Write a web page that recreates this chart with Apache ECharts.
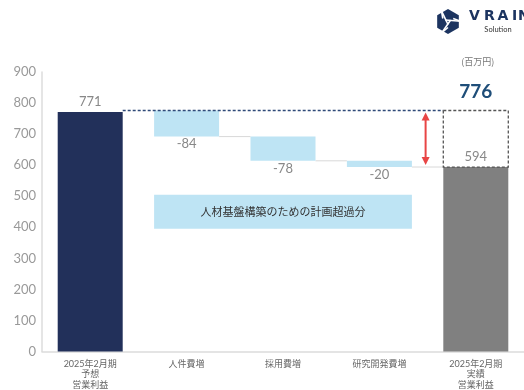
<!DOCTYPE html>
<html><head><meta charset="utf-8">
<script src="https://cdn.jsdelivr.net/npm/echarts@6/dist/echarts.min.js"></script>
<style>html,body{margin:0;padding:0;background:#fff}#c{width:524px;height:390px}</style>
</head><body><div id="c"></div>
<script>
const categories = ['2025年2月期\n予想\n営業利益', '人件費増', '採用費増', '研究開発費増', '2025年2月期\n実績\n営業利益'];
const forecast = 771;
const changes = [-84, -78, -20];
const actual = 594;
const planTotal = 776;
const yTicks = [0, 900, 100];
const noteText = '人材基盤構築のための計画超過分';
const noteRange = [505, 395];
const unitText = '(百万円)';

const FONT = 'Lato, "Noto Sans CJK JP", sans-serif';
const NAVY = '#22305a', LIGHT = '#bee4f4', GRAY = '#808080';

// build waterfall
let running = planTotal;
const base = [0], vis = [forecast], labels = [String(forecast)], colors = [NAVY];
changes.forEach(c => {
  const next = running + c;
  base.push(next); vis.push(-c); labels.push(String(c)); colors.push(LIGHT);
  running = next;
});
base.push(0); vis.push(actual); labels.push(String(actual)); colors.push(GRAY);

const chart = echarts.init(document.getElementById('c'), null, {renderer: 'canvas'});
const option = {
  animation: false,
  grid: {left: 42, right: 0, top: 72, bottom: 38},
  xAxis: {
    type: 'category', data: categories,
    axisTick: {show: false},
    axisLine: {lineStyle: {color: '#dcdcdc', width: 1.5}},
    axisLabel: {color: '#666', fontSize: 9, lineHeight: 10.5, margin: 7, fontFamily: FONT, interval: 0}
  },
  yAxis: {
    type: 'value', min: yTicks[0], max: yTicks[1], interval: yTicks[2],
    axisLine: {show: true, lineStyle: {color: '#dcdcdc', width: 1.5}},
    axisTick: {show: false},
    splitLine: {show: false},
    axisLabel: {color: '#999', fontSize: 13, margin: 6, fontFamily: FONT}
  },
  series: [
    {type: 'bar', stack: 'w', data: base, barWidth: 65, itemStyle: {color: 'transparent'}, silent: true},
    {type: 'bar', stack: 'w', barWidth: 65,
      data: vis.map((v, i) => ({
        value: v, itemStyle: {color: colors[i]},
        label: {
          show: true, formatter: labels[i],
          position: (i === 0 || i === vis.length - 1) ? 'top' : 'bottom',
          distance: (i === 0 || i === vis.length - 1) ? 4 : 1,
          color: '#888', fontSize: 13, fontFamily: FONT,
          backgroundColor: (i === 0 || i === vis.length - 1) ? 'transparent' : '#fff',
          padding: [0, 3, 0, 3]
        }
      }))
    }
  ]
};
chart.setOption(option);

const P = (x, y) => chart.convertToPixel({gridIndex: 0}, [x, y]);
const half = 32.5;
const g = [];
// connectors
let run = planTotal;
changes.forEach((c, i) => {
  const next = run + c;
  const a = P(i + 1, next), b = P(i + 2, next);
  g.push({type: 'line', shape: {x1: a[0] + half, y1: a[1], x2: b[0] - half, y2: b[1]}, style: {stroke: '#d8d8d8', lineWidth: 1}, z: 1});
  run = next;
});
// dashed plan line
const l1 = P(0, planTotal), l2 = P(4, planTotal);
g.push({type: 'line', shape: {x1: l1[0] + half, y1: l1[1], x2: l2[0] - half, y2: l2[1]}, style: {stroke: '#2f4a78', lineWidth: 1.3, lineDash: [3, 2]}, z: 5});
// dashed box on actual
const bTop = P(4, planTotal), bBot = P(4, actual);
g.push({type: 'rect', shape: {x: bTop[0] - half, y: bTop[1], width: 65, height: bBot[1] - bTop[1]}, style: {fill: 'none', stroke: '#555', lineWidth: 1.3, lineDash: [3, 2]}, z: 5});
g.push({type: 'text', style: {text: String(planTotal), x: bTop[0], y: bTop[1] - 19, align: 'center', verticalAlign: 'middle', fill: '#1f4e79', font: 'bold 19px ' + FONT}, z: 6});
// red arrow
const ax = (P(3, 0)[0] + P(4, 0)[0]) / 2 - 2;
const ay1 = P(4, planTotal)[1] + 2, ay2 = P(4, actual)[1] - 2;
g.push({type: 'line', shape: {x1: ax, y1: ay1 + 6, x2: ax, y2: ay2 - 6}, style: {stroke: '#e84545', lineWidth: 2}, z: 6});
g.push({type: 'polygon', shape: {points: [[ax, ay1], [ax - 4, ay1 + 8], [ax + 4, ay1 + 8]]}, style: {fill: '#e84545'}, z: 6});
g.push({type: 'polygon', shape: {points: [[ax, ay2], [ax - 4, ay2 - 8], [ax + 4, ay2 - 8]]}, style: {fill: '#e84545'}, z: 6});
// note box
const n1 = P(1, noteRange[0]), n2 = P(3, noteRange[1]);
g.push({type: 'rect', shape: {x: n1[0] - half, y: n1[1], width: n2[0] + half - (n1[0] - half), height: n2[1] - n1[1]}, style: {fill: LIGHT}, z: 3});
g.push({type: 'text', style: {text: noteText, x: (n1[0] + n2[0]) / 2, y: (n1[1] + n2[1]) / 2, align: 'center', verticalAlign: 'middle', fill: '#333', font: '11px "Noto Sans CJK JP", sans-serif'}, z: 4});
// unit
g.push({type: 'text', style: {text: unitText, x: bTop[0] + 2, y: 62, align: 'center', verticalAlign: 'middle', fill: '#777', font: '9px "Noto Sans CJK JP", sans-serif'}, z: 4});
// logo
const cx = 448, cy = 21.5, r = 12.5;
const hex = [];
for (let k = 0; k < 6; k++) { const a = Math.PI / 180 * (60 * k + 30); hex.push([cx + r * Math.cos(a), cy + r * Math.sin(a)]); }
g.push({type: 'polygon', shape: {points: hex}, style: {fill: '#1c3460'}, z: 4});
for (let k = 0; k < 3; k++) {
  const a = Math.PI / 180 * (60 * k * 2 + 90);
  const b = Math.PI / 180 * (60 * k * 2 + 210);
  g.push({type: 'line', shape: {x1: cx + 3 * Math.cos(a), y1: cy + 3 * Math.sin(a), x2: cx + r * Math.cos(b + 0.5), y2: cy + r * Math.sin(b + 0.5)}, style: {stroke: '#fff', lineWidth: 1.6}, z: 5});
  g.push({type: 'line', shape: {x1: cx + 6 * Math.cos(a), y1: cy + 6 * Math.sin(a), x2: cx + r * Math.cos(a + 0.5), y2: cy + r * Math.sin(a + 0.5)}, style: {stroke: '#fff', lineWidth: 1.6}, z: 5});
}
const letterX = [469, 484, 497.5, 512, 518];
'VRAIN'.split('').forEach((ch, i) => {
  g.push({type: 'text', style: {text: ch, x: letterX[i], y: 16, align: 'left', verticalAlign: 'middle', fill: '#1c3460', font: 'bold 14px "DejaVu Sans", sans-serif'}, z: 4});
});
g.push({type: 'text', style: {text: 'Solution', x: 498, y: 29.5, align: 'center', verticalAlign: 'middle', fill: '#333', font: '7.5px ' + FONT}, z: 4});

chart.setOption({graphic: {elements: g}});
</script></body></html>
